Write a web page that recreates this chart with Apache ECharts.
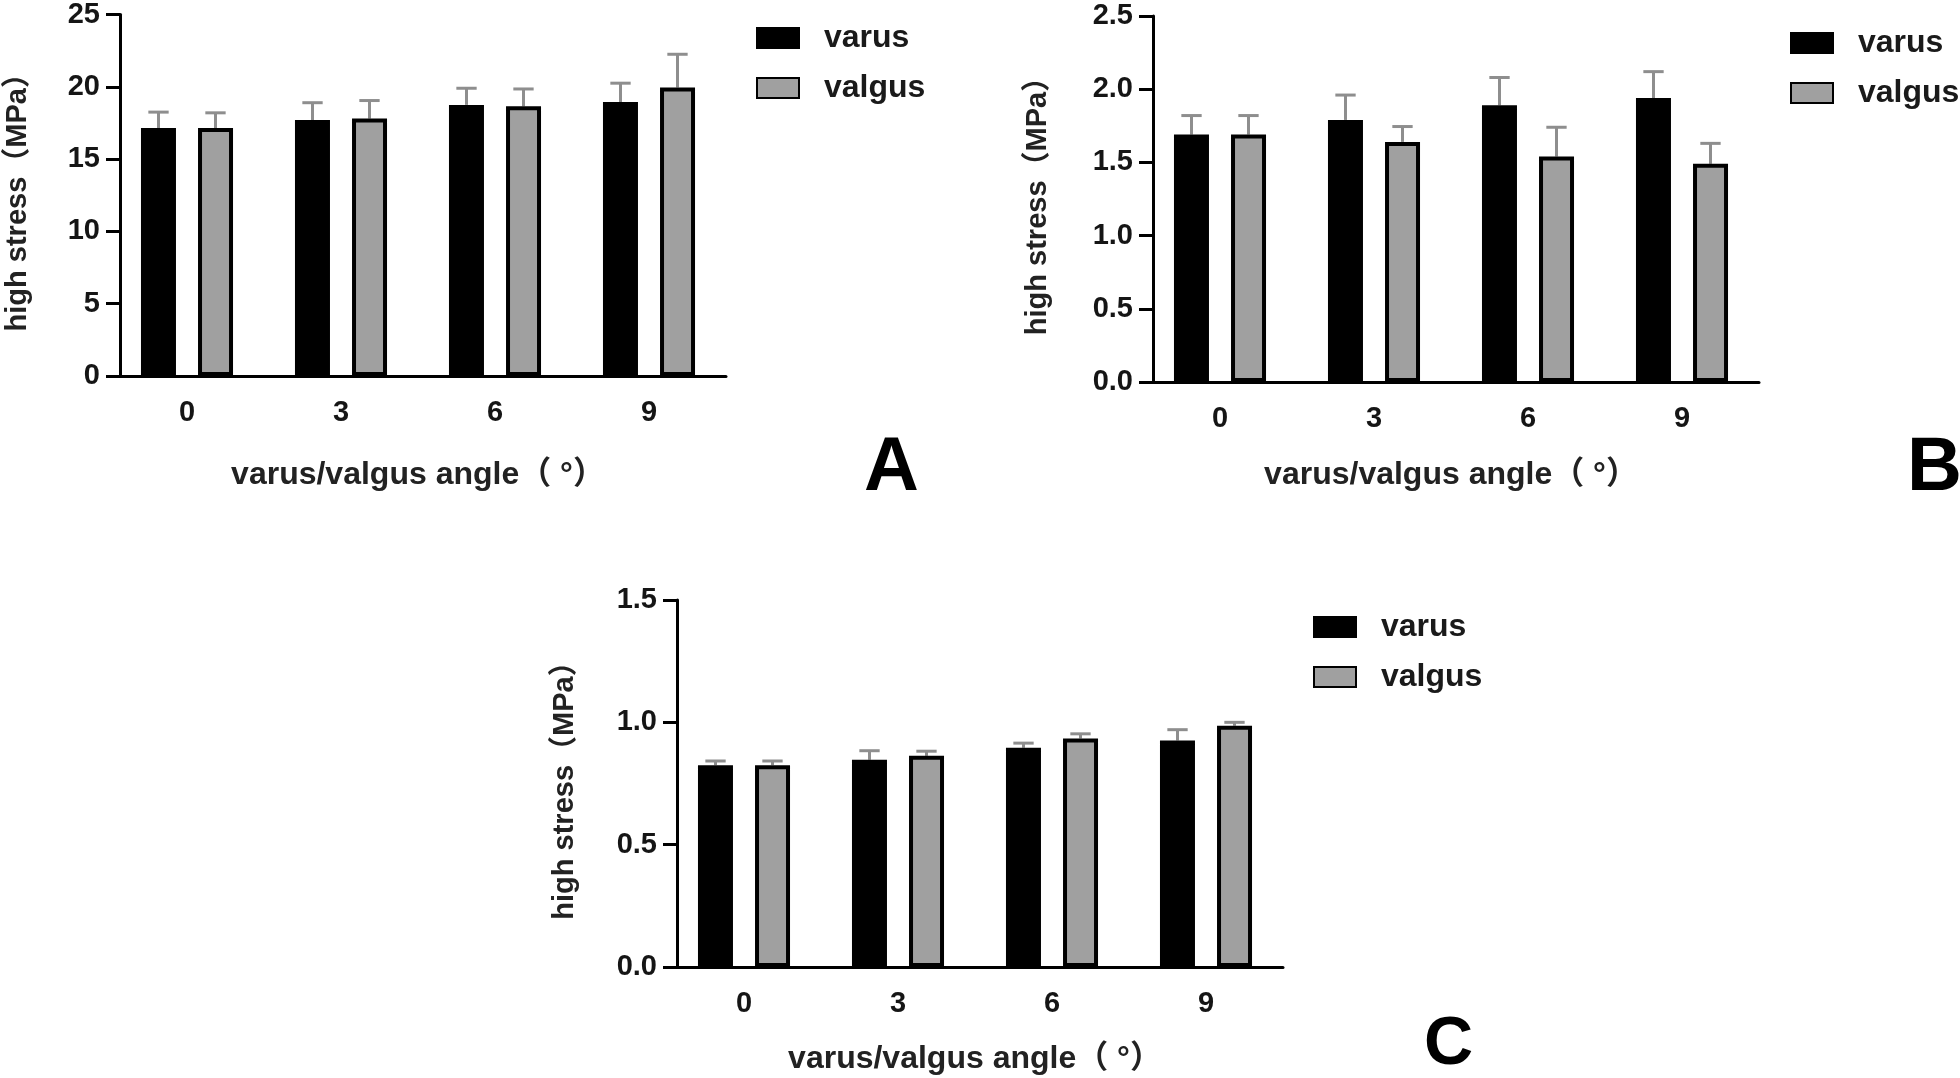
<!DOCTYPE html>
<html>
<head>
<meta charset="utf-8">
<script src="https://cdn.jsdelivr.net/npm/echarts@6/dist/echarts.min.js"></script>
<style>
html,body{margin:0;padding:0;background:#fff;}
#chart{width:1960px;height:1078px;}
</style>
</head>
<body>
<div id="chart"></div>
<script>
// ---- data ----
const categories = ['0', '3', '6', '9'];
const seriesNames = ['varus', 'valgus'];

// Panel A
const aVarus = [17.15, 17.7, 18.75, 18.95];
const aVarusErr = [1.1, 1.2, 1.15, 1.3];
const aValgus = [17.15, 17.8, 18.65, 19.95];
const aValgusErr = [1.05, 1.25, 1.2, 2.3];
const aTicks = {min: 0, max: 25, interval: 5};

// Panel B
const bVarus = [1.69, 1.79, 1.89, 1.94];
const bVarusErr = [0.13, 0.17, 0.19, 0.18];
const bValgus = [1.69, 1.64, 1.54, 1.49];
const bValgusErr = [0.13, 0.105, 0.2, 0.14];
const bTicks = {min: 0, max: 2.5, interval: 0.5};

// Panel C
const cVarus = [0.825, 0.847, 0.896, 0.926];
const cVarusErr = [0.017, 0.037, 0.019, 0.044];
const cValgus = [0.825, 0.863, 0.934, 0.986];
const cValgusErr = [0.017, 0.019, 0.019, 0.014];
const cTicks = {min: 0, max: 1.5, interval: 0.5};

const panelLetters = ['A', 'B', 'C'];
const xTitle = 'varus/valgus angle（ °）';
const yTitle = 'high stress（MPa）';

// ---- styling ----
const FONT = '"Liberation Sans", Arial, "Noto Sans CJK SC", sans-serif';
const TXT = '#151515';
const GRAY = '#a0a0a0';
const ERR = '#8e8e8e';

const panels = [
  {grid: {left: 110, top: 12, width: 616, height: 364}, ticks: aTicks, dec: 0,
   varus: aVarus, varusErr: aVarusErr, valgus: aValgus, valgusErr: aValgusErr,
   yGap: 87, xGap: 83, legend: {left: 756, top: 22}},
  {grid: {left: 1143, top: 16, width: 616, height: 366}, ticks: bTicks, dec: 1,
   varus: bVarus, varusErr: bVarusErr, valgus: bValgus, valgusErr: bValgusErr,
   yGap: 101, xGap: 77, legend: {left: 1790, top: 27}},
  {grid: {left: 667, top: 600, width: 616, height: 367}, ticks: cTicks, dec: 1,
   varus: cVarus, varusErr: cVarusErr, valgus: cValgus, valgusErr: cValgusErr,
   yGap: 98, xGap: 76, legend: {left: 1313, top: 611}}
];

function errRender(offsetFrac) {
  return function (params, api) {
    const idx = api.value(0), v = api.value(1), e = api.value(2);
    const p0 = api.coord([idx, v]);
    const p1 = api.coord([idx, v + e]);
    const band = api.size([1, 0])[0];
    const x = p0[0] + band * offsetFrac;
    const half = band * 0.066;
    return {
      type: 'group',
      children: [
        {type: 'line', shape: {x1: x, y1: p0[1], x2: x, y2: p1[1]}, style: {stroke: ERR, lineWidth: 3}},
        {type: 'line', shape: {x1: x - half, y1: p1[1], x2: x + half, y2: p1[1]}, style: {stroke: ERR, lineWidth: 3}}
      ]
    };
  };
}

const grids = [], xAxes = [], yAxes = [], series = [], legends = [];
panels.forEach((p, i) => {
  grids.push(Object.assign({containLabel: false}, p.grid));
  xAxes.push({
    type: 'category', gridIndex: i, data: categories,
    name: xTitle, nameLocation: 'middle', nameGap: p.xGap,
    nameTextStyle: {fontFamily: FONT, fontWeight: 'bold', fontSize: 32, color: '#222'},
    axisLine: {lineStyle: {color: '#000', width: 3}},
    axisTick: {alignWithLabel: true, length: 13, lineStyle: {color: '#000', width: 3}},
    axisLabel: {margin: 22, fontFamily: FONT, fontWeight: 'bold', fontSize: 29, color: TXT},
    splitLine: {show: false}
  });
  yAxes.push({
    type: 'value', gridIndex: i, min: p.ticks.min, max: p.ticks.max, interval: p.ticks.interval,
    offset: -10,
    name: yTitle, nameLocation: 'middle', nameGap: p.yGap, nameRotate: 90,
    nameTextStyle: {fontFamily: FONT, fontWeight: 'bold', fontSize: 29, color: '#222'},
    axisLine: {show: true, lineStyle: {color: '#000', width: 3}},
    axisTick: {show: true, length: 14, lineStyle: {color: '#000', width: 3}},
    axisLabel: {margin: 20, fontFamily: FONT, fontWeight: 'bold', fontSize: 29, color: TXT,
      formatter: (v) => v.toFixed(p.dec)},
    splitLine: {show: false}
  });
  series.push({
    name: 'varus', type: 'bar', xAxisIndex: i, yAxisIndex: i, data: p.varus,
    barWidth: 35, barGap: '63%',
    itemStyle: {color: '#000', borderColor: '#000', borderWidth: 4}, z: 3
  });
  series.push({
    name: 'valgus', type: 'bar', xAxisIndex: i, yAxisIndex: i, data: p.valgus,
    barWidth: 35, barGap: '63%',
    itemStyle: {color: GRAY, borderColor: '#000', borderWidth: 4}, z: 3
  });
  series.push({
    name: 'err-varus-' + i, type: 'custom', xAxisIndex: i, yAxisIndex: i,
    renderItem: errRender(-0.185), encode: {x: 0, y: 1}, z: 2,
    data: p.varus.map((v, k) => [k, v, p.varusErr[k]])
  });
  series.push({
    name: 'err-valgus-' + i, type: 'custom', xAxisIndex: i, yAxisIndex: i,
    renderItem: errRender(0.185), encode: {x: 0, y: 1}, z: 2,
    data: p.valgus.map((v, k) => [k, v, p.valgusErr[k]])
  });
  legends.push({
    data: seriesNames, orient: 'vertical', left: p.legend.left, top: p.legend.top,
    padding: 0, itemWidth: 42, itemHeight: 20, itemGap: 18, icon: 'rect',
    selectedMode: false,
    textStyle: {fontFamily: FONT, fontWeight: 'bold', fontSize: 32, color: '#1a1a1a',
      lineHeight: 32, padding: [0, 0, 0, 20]}
  });
});

const letterPos = [
  {left: 864, top: 469, size: 76},
  {left: 1907, top: 469, size: 76},
  {left: 1424, top: 1045, size: 68}
];
const graphics = panelLetters.map((t, i) => ({
  type: 'text', left: letterPos[i].left, top: letterPos[i].top - letterPos[i].size / 2,
  style: {text: t, fill: '#000', font: 'bold ' + letterPos[i].size + 'px ' + FONT}
}));

const chart = echarts.init(document.getElementById('chart'), null, {renderer: 'canvas'});
chart.setOption({
  animation: false,
  backgroundColor: '#fff',
  grid: grids, xAxis: xAxes, yAxis: yAxes, series: series, legend: legends,
  graphic: graphics
});
</script>
</body>
</html>
